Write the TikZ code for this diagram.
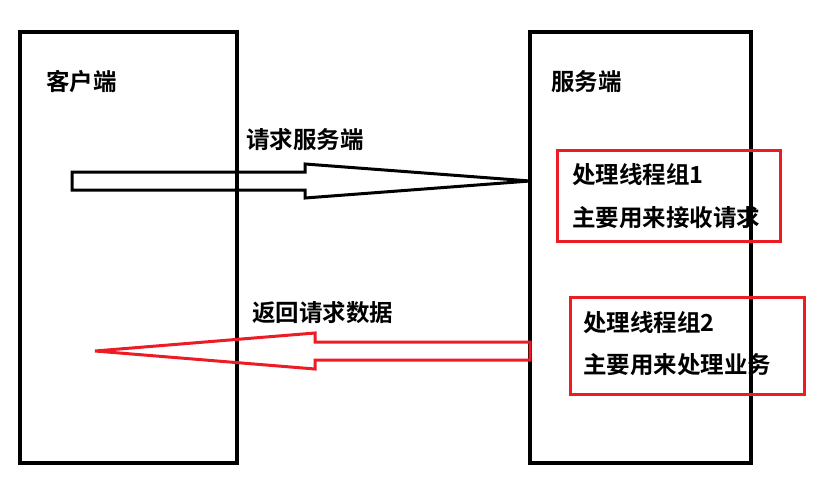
\documentclass[tikz,border=0pt]{standalone}
\usepackage{fontspec}
\newfontfamily\cjk{Noto Sans CJK SC}[BoldFont={Noto Sans CJK SC Bold}]
\definecolor{pred}{HTML}{ED1C24}
\begin{document}
\begin{tikzpicture}[x=1pt,y=-1pt,
  box/.style={draw=black,line width=4pt},
  rbox/.style={draw=pred,line width=3pt},
  lbl/.style={font=\cjk\bfseries\fontsize{23.5}{28}\selectfont,inner sep=0pt,anchor=west},
  arr/.style={line width=3pt,line join=miter}]
\useasboundingbox (0,0) rectangle (832,500);
\draw[box] (20,32) rectangle (237,463);
\draw[box] (530,32) rectangle (751,463);
\node[lbl] (c) at (46,82) {客户端};
\node[lbl] (s) at (551,82) {服务端};
\node[lbl] (q) at (246,140) {请求服务端};
\node[lbl] (r) at (252,313) {返回请求数据};
\draw[rbox] (557,150) rectangle (780,241);
\draw[rbox] (570,297) rectangle (804,394);
\node[lbl] (g1) at (572,175) {处理线程组1};
\node[lbl] (g1b) at (572,218) {主要用来接收请求};
\node[lbl] (g2) at (583,323) {处理线程组2};
\node[lbl] (g2b) at (583,365) {主要用来处理业务};
\draw[arr,black] (72,172) -- (305,172) -- (305,164) -- (530,181) -- (305,198) -- (305,190) -- (72,190) -- cycle;
\draw[arr,pred] (530,342) -- (315,342) -- (315,333) -- (95,351) -- (315,369) -- (315,360) -- (530,360) -- cycle;
\end{tikzpicture}
\end{document}
